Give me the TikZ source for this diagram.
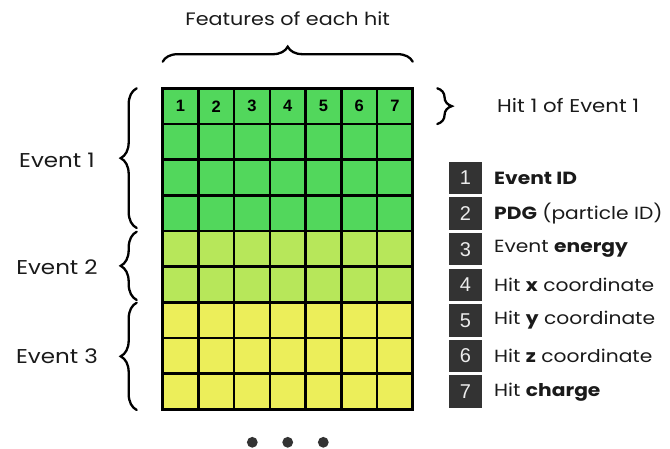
\documentclass[tikz,border=0pt]{standalone}
\usepackage{fontspec}
\setmainfont{Poppins}[FakeStretch=1.15]
\newfontfamily\numfont{Liberation Sans}
\usetikzlibrary{decorations.pathreplacing}
\definecolor{cgreen}{HTML}{52D75C}
\definecolor{clime}{HTML}{B7E75A}
\definecolor{cyellow}{HTML}{ECEE5A}
\definecolor{cdark}{HTML}{333333}
\definecolor{ctext}{HTML}{1A1A1A}
\tikzset{
  cell/.style={draw=black, line width=2.6pt, minimum width=35.714pt, minimum height=35.64pt, inner sep=0pt},
  cellnum/.style={inner sep=0pt, font=\numfont\bfseries\fontsize{16.5}{16.5}\selectfont},
  legbox/.style={fill=cdark, minimum width=33pt, minimum height=32.5pt, inner sep=0pt, text=gray!15, font=\numfont\fontsize{20}{20}\selectfont},
  legtext/.style={anchor=west, inner sep=0pt, text=ctext, font=\fontsize{17.6}{19}\selectfont},
  evlabel/.style={inner sep=0pt, text=ctext, font=\fontsize{20}{21}\selectfont},
  bracestyle/.style={decorate, line width=2.3pt, line cap=round, decoration={brace, amplitude=#1}},
  dot/.style={circle, fill=cdark, minimum size=10.8pt, inner sep=0pt}
}
\begin{document}
\begin{tikzpicture}[x=1pt, y=-1pt]
\useasboundingbox (0,0) rectangle (670,449);
% grid cells
\foreach \r in {1,...,9} {
  \foreach \c in {1,...,7} {
    \pgfmathsetmacro{\cx}{162.7 + (\c-0.5)*35.714}
    \pgfmathsetmacro{\cy}{88.5 + (\r-0.5)*35.64}
    \ifnum\r<5
      \def\fc{cgreen}
    \else\ifnum\r<7
      \def\fc{clime}
    \else
      \def\fc{cyellow}
    \fi\fi
    \node[cell, fill=\fc] (cell-\r-\c) at (\cx,\cy) {};
  }
}
\foreach \c in {1,...,7} {
  \node[cellnum] (num-\c) at (cell-1-\c.center) {\c};
}
% top brace
\coordinate (tbl) at (162.7,61.7);
\coordinate (tbr) at (412.7,61.7);
\draw[bracestyle=15pt] (tbl) -- (tbr);
\node[evlabel, font=\fontsize{18}{19}\selectfont] (feat) at (287.7,19) {Features of each hit};
% right brace for hit 1
\coordinate (rbt) at (437.3,88.3);
\coordinate (rbb) at (437.3,124);
\draw[bracestyle=14.5pt] (rbt) -- (rbb);
\node[evlabel, anchor=west, font=\fontsize{18.5}{19}\selectfont] (hit1) at (497,106) {Hit 1 of Event 1};
% left braces
\coordinate (e1b) at (136.7,228);
\coordinate (e1t) at (136.7,88.3);
\coordinate (e2b) at (136.7,300);
\coordinate (e2t) at (136.7,231.7);
\coordinate (e3b) at (136.7,410);
\coordinate (e3t) at (136.7,302.7);
\draw[bracestyle=16pt] (e1b) -- (e1t);
\draw[bracestyle=16pt] (e2b) -- (e2t);
\draw[bracestyle=16pt] (e3b) -- (e3t);
\node[evlabel] (ev1) at (57,160) {Event 1};
\node[evlabel] (ev2) at (57,267) {Event 2};
\node[evlabel] (ev3) at (57,356) {Event 3};
% legend
\foreach \i/\t in {1/{\textbf{Event ID}},2/{\textbf{PDG} (particle ID)},3/{Event \textbf{energy}},4/{Hit \textbf{x} coordinate},5/{Hit \textbf{y} coordinate},6/{Hit \textbf{z} coordinate},7/{Hit \textbf{charge}}} {
  \pgfmathsetmacro{\ly}{88.5 + (\i+1.5)*35.64 + 0.3}
  \node[legbox] (lb-\i) at (465.5,\ly) {\i};
  \node[legtext] (lt-\i) at (494,\ly) {\t};
}
% dots
\node[dot] (d1) at (252.3,442.3) {};
\node[dot] (d2) at (287.7,442.3) {};
\node[dot] (d3) at (323.3,442.3) {};
\end{tikzpicture}
\end{document}
